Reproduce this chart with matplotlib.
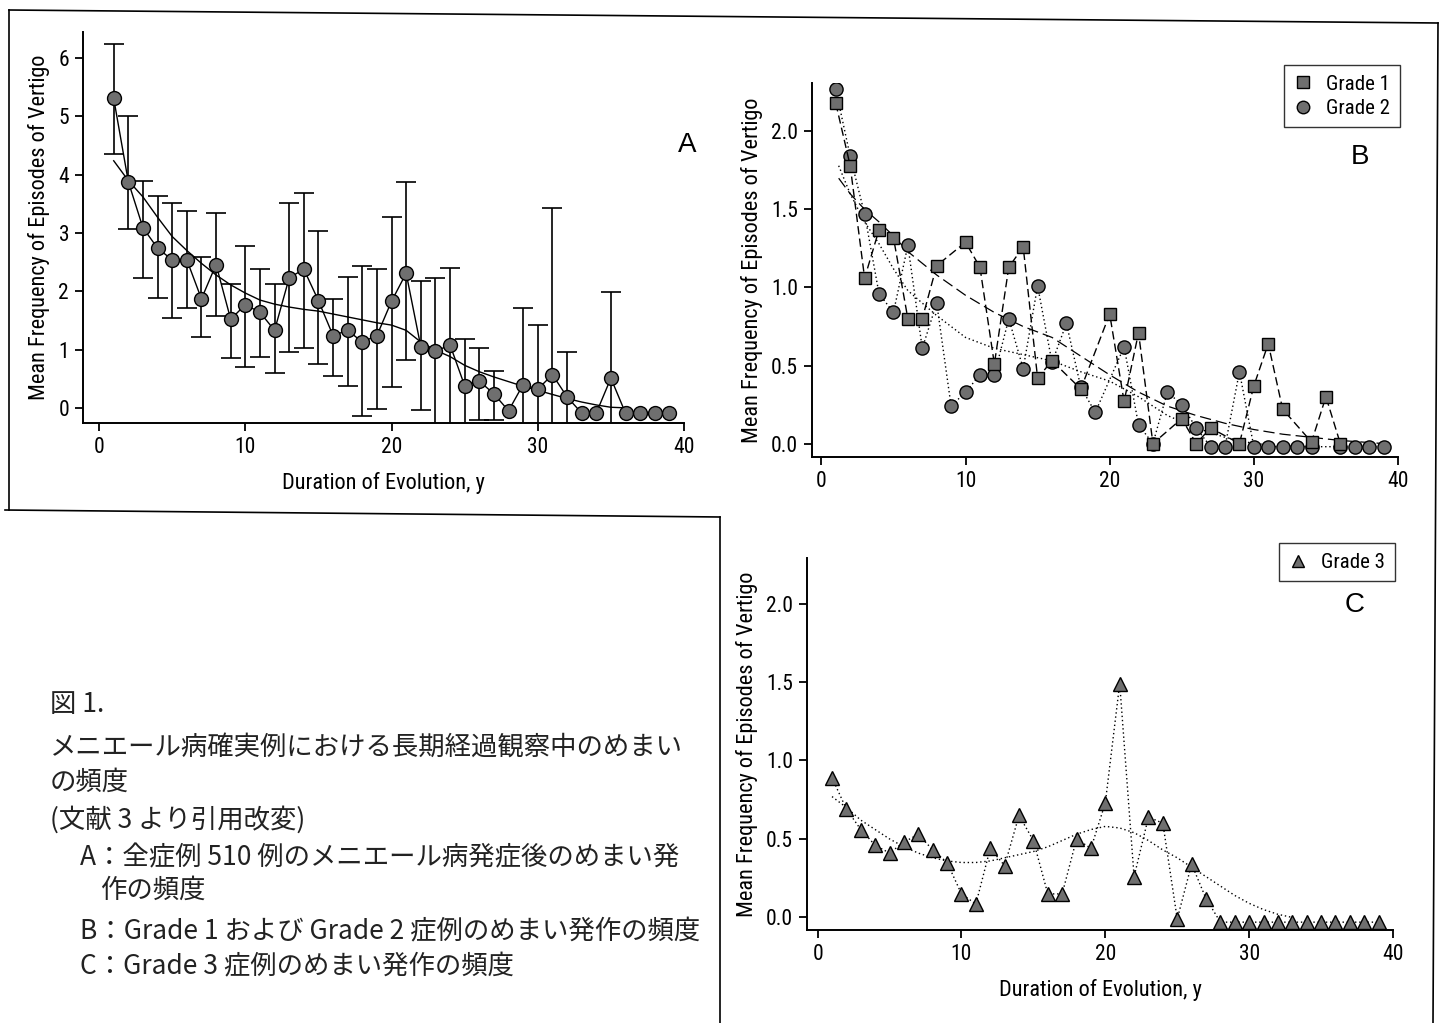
import numpy as np
import matplotlib.pyplot as plt
from matplotlib.lines import Line2D

narrow = ['Roboto Condensed', 'Liberation Sans', 'DejaVu Sans']
jp = ['Noto Sans CJK JP', 'DejaVu Sans']
plt.rcParams['font.family'] = narrow

years = np.arange(1, 40)

# panel A: all 510 cases
mean_a = [5.31, 3.88, 3.09, 2.74, 2.54, 2.54, 1.87, 2.46, 1.52, 1.77,
          1.64, 1.33, 2.23, 2.38, 1.84, 1.24, 1.33, 1.13, 1.24, 1.83,
          2.31, 1.05, 0.97, 1.08, 0.38, 0.46, 0.24, -0.05, 0.40, 0.32,
          0.57, 0.19, -0.09, -0.09, 0.51, -0.09, -0.09, -0.09, -0.09]
upper_a = [6.24, 5.01, 3.89, 3.64, 3.51, 3.38, 2.59, 3.34, 2.12, 2.78,
           2.38, 2.12, 3.52, 3.69, 3.03, 1.86, 2.24, 2.44, 2.38, 3.28,
           3.88, 2.18, 2.22, 2.40, 1.18, 1.03, 0.64, np.nan, 1.72, 1.43,
           3.43, 0.96, np.nan, np.nan, 1.99, np.nan, np.nan, np.nan, np.nan]
lower_a = [4.35, 3.07, 2.23, 1.89, 1.55, 1.72, 1.22, 1.57, 0.85, 0.70,
           0.88, 0.59, 0.96, 1.03, 0.75, 0.54, 0.37, -0.14, -0.02, 0.36,
           0.82, -0.03, -0.6, -0.30, -0.6, -0.21, -0.21, np.nan, -0.6, -0.6,
           -0.6, -0.6, np.nan, np.nan, -0.6, np.nan, np.nan, np.nan, np.nan]
fit_years_a = np.arange(1, 37)
fit_a = [4.24, 3.90, 3.62, 3.27, 2.94, 2.70, 2.48, 2.28, 2.11, 1.97,
         1.85, 1.78, 1.73, 1.69, 1.66, 1.61, 1.56, 1.51, 1.46, 1.42,
         1.33, 1.13, 0.99, 0.88, 0.73, 0.62, 0.53, 0.45, 0.37, 0.30,
         0.23, 0.16, 0.10, 0.05, 0.01, 0.0]

# panel B: grade 1 and grade 2
grade1 = [2.18, 1.78, 1.06, 1.37, 1.32, 0.80, 0.80, 1.14, np.nan, 1.29,
          1.13, 0.51, 1.13, 1.26, 0.42, 0.53, np.nan, 0.35, np.nan, 0.83,
          0.27, 0.71, 0.0, np.nan, 0.16, 0.0, 0.10, np.nan, 0.0, 0.37,
          0.64, 0.22, np.nan, 0.01, 0.30, 0.0, np.nan, np.nan, np.nan]
grade2 = [2.27, 1.84, 1.47, 0.96, 0.84, 1.27, 0.61, 0.90, 0.24, 0.33,
          0.44, 0.44, 0.80, 0.48, 1.01, 0.52, 0.77, 0.36, 0.20, np.nan,
          0.62, 0.12, 0.0, 0.33, 0.25, 0.10, -0.02, -0.02, 0.46, -0.02,
          -0.02, -0.02, -0.02, -0.02, np.nan, -0.02, -0.02, -0.02, -0.02]
fit_years_b1 = [1.2, 2, 3, 4, 5, 6, 8, 10, 12, 14, 16, 18, 20, 22, 24,
                26, 28, 30, 32, 34, 36, 39]
fit_b1 = [1.70, 1.60, 1.50, 1.42, 1.33, 1.23, 1.08, 0.95, 0.84, 0.75,
          0.68, 0.56, 0.44, 0.33, 0.24, 0.18, 0.13, 0.09, 0.06, 0.04,
          0.02, 0.0]
fit_years_b2 = [1.2, 2, 3, 4, 5, 6, 8, 10, 12, 14, 16, 18, 20, 22, 24,
                26, 28, 30, 33]
fit_b2 = [1.78, 1.60, 1.42, 1.28, 1.12, 0.98, 0.82, 0.68, 0.61, 0.57,
          0.53, 0.46, 0.40, 0.30, 0.18, 0.10, 0.04, 0.0, -0.02]

# panel C: grade 3
grade3 = [0.89, 0.69, 0.56, 0.46, 0.41, 0.48, 0.53, 0.43, 0.35, 0.15,
          0.085, 0.44, 0.33, 0.65, 0.49, 0.15, 0.15, 0.50, 0.44, 0.73,
          1.49, 0.26, 0.64, 0.60, -0.01, 0.34, 0.12, -0.03, -0.03, -0.03,
          -0.03, -0.03, -0.03, -0.03, -0.03, -0.03, -0.03, -0.03, -0.03]
fit_years_c = np.arange(1, 34)
fit_c = [0.77, 0.70, 0.62, 0.56, 0.50, 0.45, 0.41, 0.38, 0.36, 0.35,
         0.35, 0.36, 0.38, 0.40, 0.42, 0.45, 0.49, 0.53, 0.56, 0.58,
         0.57, 0.54, 0.49, 0.43, 0.38, 0.32, 0.26, 0.20, 0.14, 0.09,
         0.05, 0.02, 0.0]

ylabel = 'Mean Frequency of Episodes of Vertigo'
xlabel = 'Duration of Evolution, y'

caption_lines = [
    '図 1.',
    'メニエール病確実例における長期経過観察中のめまい',
    'の頻度',
    '(文献 3 より引用改変)',
    'A：全症例 510 例のメニエール病発症後のめまい発',
    '作の頻度',
    'B：Grade 1 および Grade 2 症例のめまい発作の頻度',
    'C：Grade 3 症例のめまい発作の頻度',
]

W, H = 1449, 1023
fig = plt.figure(figsize=(W / 100, H / 100), dpi=100)


def box(x0, y0, x1, y1):
    return [x0 / W, 1 - y1 / H, (x1 - x0) / W, (y1 - y0) / H]


def style(ax):
    for s in ['top', 'right']:
        ax.spines[s].set_visible(False)
    for s in ['left', 'bottom']:
        ax.spines[s].set_linewidth(1.4)
    ax.tick_params(direction='out', length=6, width=1.3, labelsize=15.5, pad=4)


gray = '#6f6f6f'
yrs = np.array(years)
lab = 16

# ---- A
ax = fig.add_axes(box(83, 32, 684, 423))
style(ax)
m = np.array(mean_a)
up = np.array(upper_a)
lo = np.array(lower_a)
ok = ~np.isnan(up)
ax.errorbar(yrs[ok], m[ok], yerr=[m[ok] - lo[ok], up[ok] - m[ok]], fmt='none',
            ecolor='black', elinewidth=1.2, capsize=7, capthick=1.2, zorder=1)
ax.plot(fit_years_a, fit_a, color='black', lw=1.0, zorder=2)
ax.plot(yrs, m, color='black', lw=1.0, marker='o', ms=10, mfc=gray,
        mec='black', mew=1.0, zorder=3)
ax.set_xlim(-1.1, 40)
ax.set_ylim(-0.26, 6.45)
ax.set_xticks([0, 10, 20, 30, 40])
ax.set_yticks(range(7))
ax.set_xlabel(xlabel, fontsize=lab, labelpad=10)
ax.set_ylabel(ylabel, fontsize=lab, labelpad=6)

# ---- B
ax = fig.add_axes(box(812, 83, 1398, 457))
style(ax)
g1 = np.array(grade1)
g2 = np.array(grade2)
k1 = ~np.isnan(g1)
k2 = ~np.isnan(g2)
ax.plot(fit_years_b1, fit_b1, color='black', lw=0.9, ls=(0, (9, 4)), zorder=1)
ax.plot(fit_years_b2, fit_b2, color='black', lw=1.0, ls=(0, (1, 2)), zorder=1)
ax.plot(yrs[k2], g2[k2], color='black', lw=1.0, ls=(0, (1, 2)), marker='o',
        ms=9.5, mfc=gray, mec='black', mew=1.0, zorder=2)
ax.plot(yrs[k1], g1[k1], color='black', lw=1.0, ls=(0, (6, 3)), marker='s',
        ms=9, mfc=gray, mec='black', mew=1.0, zorder=3)
ax.set_xlim(-0.65, 40)
ax.set_ylim(-0.086, 2.31)
ax.set_xticks([0, 10, 20, 30, 40])
ax.set_yticks([0, 0.5, 1.0, 1.5, 2.0])
ax.set_yticklabels(['0.0', '0.5', '1.0', '1.5', '2.0'])
ax.set_ylabel(ylabel, fontsize=lab, labelpad=6)
hb = [Line2D([], [], ls='none', marker='s', ms=8, mfc=gray, mec='black', label='Grade 1'),
      Line2D([], [], ls='none', marker='o', ms=9, mfc=gray, mec='black', label='Grade 2')]
leg = ax.legend(handles=hb, loc='upper right', bbox_to_anchor=(1410 / W, 1 - 55 / H),
                bbox_transform=fig.transFigure, fontsize=15, frameon=True,
                fancybox=False, edgecolor='black', handlelength=1.0,
                handletextpad=0.6, borderpad=0.45, labelspacing=0.25)
leg.get_frame().set_linewidth(1.0)

# ---- C
ax = fig.add_axes(box(807, 558, 1393, 930))
style(ax)
g3 = np.array(grade3)
ax.plot(fit_years_c, fit_c, color='black', lw=1.0, ls=(0, (1, 2)), zorder=1)
ax.plot(yrs, g3, color='black', lw=1.0, ls=(0, (1, 2)), marker='^', ms=10,
        mfc=gray, mec='black', mew=1.0, zorder=2)
ax.set_xlim(-0.74, 40)
ax.set_ylim(-0.08, 2.29)
ax.set_xticks([0, 10, 20, 30, 40])
ax.set_yticks([0, 0.5, 1.0, 1.5, 2.0])
ax.set_yticklabels(['0.0', '0.5', '1.0', '1.5', '2.0'])
ax.set_xlabel(xlabel, fontsize=lab, labelpad=10)
ax.set_ylabel(ylabel, fontsize=lab, labelpad=6)
hc = [Line2D([], [], ls='none', marker='^', ms=9, mfc=gray, mec='black', label='Grade 3')]
leg = ax.legend(handles=hc, loc='upper right', bbox_to_anchor=(1405 / W, 1 - 533 / H),
                bbox_transform=fig.transFigure, fontsize=15, frameon=True,
                fancybox=False, edgecolor='black', handlelength=1.0,
                handletextpad=0.6, borderpad=0.45)
leg.get_frame().set_linewidth(1.0)

# panel letters
fig.text(687 / W, 1 - 145 / H, 'A', fontsize=20, ha='center', va='center', family='Liberation Sans')
fig.text(1360 / W, 1 - 157 / H, 'B', fontsize=20, ha='center', va='center', family='Liberation Sans')
fig.text(1355 / W, 1 - 605 / H, 'C', fontsize=20, ha='center', va='center', family='Liberation Sans')

# caption
cap_x = [50, 50, 50, 50, 80, 100, 80, 80]
cap_y = [705, 747, 782, 820, 858, 890, 932, 967]
for tx, cx, cy in zip(caption_lines, cap_x, cap_y):
    fig.text(cx / W, 1 - cy / H, tx, fontsize=19, family=jp, ha='left',
             va='center', color='#222222')

# page frame lines (scan slightly skewed)
frame = [((9, 10), (1438, 23)), ((9, 10), (9, 510)), ((5, 510), (720, 517)),
         ((720, 517), (720, 1023)), ((1438, 23), (1433, 1023))]
for (x0, y0), (x1, y1) in frame:
    fig.add_artist(Line2D([x0 / W, x1 / W], [1 - y0 / H, 1 - y1 / H],
                          transform=fig.transFigure, color='black', lw=1.2))

fig.savefig('out.png', dpi=100)
